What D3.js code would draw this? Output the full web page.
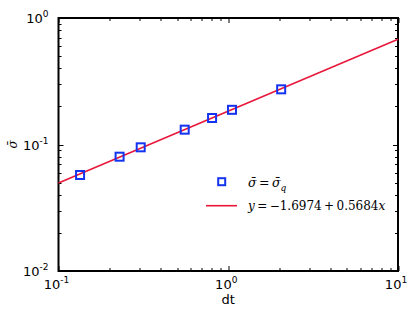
<!DOCTYPE html>
<html>
<head>
<meta charset="utf-8">
<script src="https://cdn.jsdelivr.net/npm/d3@7"></script>
<style>
  body { margin: 0; background: #fff; }
  svg text { font-family: "DejaVu Sans", sans-serif; }
</style>
</head>
<body>
<div id="chart"></div>
<script>
// measured points
var dtValues = [0.134, 0.229, 0.305, 0.554, 0.803, 1.052, 2.05];
var sigmaValues = [0.0574, 0.0801, 0.095, 0.131, 0.162, 0.188, 0.273];
// fitted line, endpoints read at the plot edges
var fitX = [0.1, 10];
var fitY = [0.0497, 0.679];
var xTicks = [0.1, 1, 10];
var yTicks = [0.01, 0.1, 1];
var tickExp = { 0.01: "-2", 0.1: "-1", 1: "0", 10: "1" };

let margin = { top: 18, right: 22, bottom: 44, left: 58.5 };
let width = 420 - margin.left - margin.right;
let height = 315 - margin.top - margin.bottom;

let x = d3.scaleLog().domain([0.1, 10]).range([0, width]);
let y = d3.scaleLog().domain([0.01, 1]).range([height, 0]);

let svg = d3.select("#chart").append("svg")
  .attr("width", 420).attr("height", 315)
  .append("g")
  .attr("transform", "translate(" + margin.left + "," + margin.top + ")");

// all ticks incl. minor
function allTicks(lo, hi) {
  let t = [];
  for (let e = Math.log10(lo); e < Math.log10(hi); e++) {
    for (let k = 1; k < 10; k++) t.push(k * Math.pow(10, e));
  }
  t.push(hi);
  return t;
}
let xt = allTicks(0.1, 10);
let yt = allTicks(0.01, 1);
function isMajor(v) { return Math.abs(Math.log10(v) - Math.round(Math.log10(v))) < 1e-9; }

let tickG = svg.append("g").attr("stroke", "#000").attr("stroke-width", 1);
xt.forEach(function (v) {
  let len = isMajor(v) ? 5 : 3;
  let px = Math.round(x(v)) + 0.5;
  tickG.append("line").attr("x1", px).attr("x2", px).attr("y1", height).attr("y2", height - len);
  tickG.append("line").attr("x1", px).attr("x2", px).attr("y1", 0).attr("y2", len);
});
yt.forEach(function (v) {
  let len = isMajor(v) ? 5 : 3;
  let py = Math.round(y(v)) + 0.5;
  tickG.append("line").attr("x1", 0).attr("x2", len).attr("y1", py).attr("y2", py);
  tickG.append("line").attr("x1", width).attr("x2", width - len).attr("y1", py).attr("y2", py);
});

svg.append("rect")
  .attr("x", 0).attr("y", 0).attr("width", width).attr("height", height)
  .attr("fill", "none").attr("stroke", "#000").attr("stroke-width", 2);

// tick labels
xTicks.forEach(function (v) {
  let t = svg.append("text")
    .attr("x", x(v) - 2).attr("y", height + 18)
    .attr("text-anchor", "middle")
    .attr("font-size", 13);
  t.append("tspan").text("10");
  t.append("tspan").attr("dy", -6).attr("font-size", 9).text(tickExp[v]);
});
yTicks.forEach(function (v) {
  let t = svg.append("text")
    .attr("x", -10).attr("y", y(v) + 5)
    .attr("text-anchor", "end")
    .attr("font-size", 13);
  t.append("tspan").text("10");
  t.append("tspan").attr("dy", -6).attr("font-size", 9).text(tickExp[v]);
});

// axis titles
svg.append("text")
  .attr("x", x(1)).attr("y", height + 33)
  .attr("text-anchor", "middle").attr("font-size", 13)
  .text("dt");
svg.append("text")
  .attr("transform", "translate(" + (-42) + "," + y(0.1) + ") rotate(-90)")
  .attr("text-anchor", "middle").attr("font-size", 12)
  .style("font-family", "DejaVu Serif, serif")
  .style("font-style", "italic")
  .text("σ\u0304");

// fit line
let lineColor = "#e8173a";
let markColor = "#1433f0";
svg.append("path")
  .datum(fitX.map(function (d, i) { return [d, fitY[i]]; }))
  .attr("fill", "none").attr("stroke", lineColor).attr("stroke-width", 1.6)
  .attr("d", d3.line().x(function (d) { return x(d[0]); }).y(function (d) { return y(d[1]); }));

// markers
svg.selectAll("rect.pt")
  .data(dtValues)
  .enter().append("rect")
  .attr("class", "pt")
  .attr("x", function (d) { return x(d) - 4; })
  .attr("y", function (d, i) { return y(sigmaValues[i]) - 4; })
  .attr("width", 8).attr("height", 8)
  .attr("fill", "none").attr("stroke", markColor).attr("stroke-width", 2);

// legend
let lg = svg.append("g");
lg.append("rect")
  .attr("x", 221.7 - margin.left - 3.5).attr("y", 181.7 - margin.top - 3.5)
  .attr("width", 7).attr("height", 7)
  .attr("fill", "none").attr("stroke", markColor).attr("stroke-width", 2);
lg.append("line")
  .attr("x1", 206 - margin.left).attr("x2", 237 - margin.left)
  .attr("y1", 205.7 - margin.top).attr("y2", 205.7 - margin.top)
  .attr("stroke", lineColor).attr("stroke-width", 1.6);

let serif = "DejaVu Serif, serif";
let t1 = lg.append("text")
  .attr("x", 248 - margin.left).attr("y", 186.5 - margin.top)
  .attr("font-size", 12.5).style("font-family", serif);
t1.append("tspan").style("font-style", "italic").text("σ\u0304");
t1.append("tspan").text("\u2009=\u2009");
t1.append("tspan").style("font-style", "italic").text("σ\u0304");
t1.append("tspan").attr("dy", 4).attr("font-size", 9).style("font-style", "italic").text("q");

let t2 = lg.append("text")
  .attr("x", 248 - margin.left).attr("y", 210 - margin.top)
  .attr("font-size", 12).style("font-family", serif);
t2.append("tspan").style("font-style", "italic").text("y");
t2.append("tspan").text("\u2009=\u2009\u22121.6974\u2009+\u20090.5684");
t2.append("tspan").style("font-style", "italic").text("x");
</script>
</body>
</html>
